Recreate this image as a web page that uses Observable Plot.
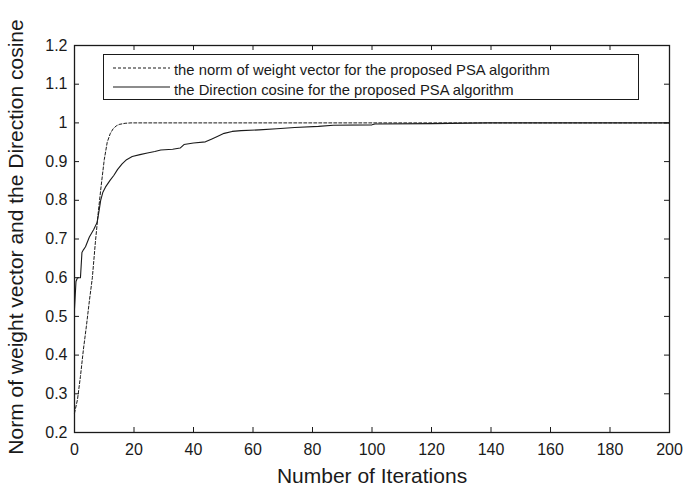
<!DOCTYPE html>
<html><head><meta charset="utf-8">
<script src="https://cdn.jsdelivr.net/npm/d3@7"></script>
<script src="https://cdn.jsdelivr.net/npm/@observablehq/plot@0.6"></script>
<style>
body{margin:0;background:#fff;}
#wrap{position:relative;width:685px;height:486px;font-family:"Liberation Sans",Arial,Helvetica,sans-serif;}
#legend{position:absolute;left:103px;top:54px;width:536px;height:46px;box-sizing:border-box;border:1.3px solid #1a1a1a;background:#fff;}
#legend svg{display:block;}
</style></head><body><div id="wrap"></div>
<script>
// ---- data ----
const xLabel = "Number of Iterations";
const yLabel = "Norm of weight vector and the Direction cosine";
const seriesNames = [
  "the norm of weight vector for the proposed PSA algorithm",
  "the Direction cosine for the proposed PSA algorithm"
];
const xTicks = [0, 20, 40, 60, 80, 100, 120, 140, 160, 180, 200];
const yTicks = [0.2, 0.3, 0.4, 0.5, 0.6, 0.7, 0.8, 0.9, 1, 1.1, 1.2];

// norm of weight vector (dashed)
const normIter  = [0, 1, 2, 3, 4, 5, 6, 7, 8, 9, 10, 11, 12, 13, 14, 15, 17, 19, 200];
const normValue = [0.25, 0.285, 0.345, 0.415, 0.475, 0.54, 0.60, 0.69, 0.77, 0.84, 0.905, 0.95, 0.972, 0.985, 0.992, 0.996, 0.999, 1.0, 1.0];

// direction cosine (solid)
const cosIter  = [0, 0.5, 1, 2, 2.5, 3, 3.7, 5, 6.5, 7.6, 8.2, 8.8, 9.5, 10.4, 12, 13.2, 14.5, 16, 17.5, 19.4, 22, 24.5, 27, 29, 33, 35.5, 36.8, 40, 44, 46, 48, 50.3, 53, 56, 62, 68, 74, 82, 87, 100, 101, 120, 139, 200];
const cosValue = [0.52, 0.59, 0.60, 0.60, 0.665, 0.672, 0.68, 0.705, 0.725, 0.743, 0.77, 0.80, 0.82, 0.834, 0.852, 0.864, 0.88, 0.894, 0.905, 0.913, 0.918, 0.922, 0.926, 0.930, 0.932, 0.935, 0.944, 0.948, 0.951, 0.958, 0.965, 0.973, 0.978, 0.980, 0.982, 0.985, 0.988, 0.991, 0.994, 0.995, 0.997, 0.998, 1.0, 1.0];

// ---- build ----
const normData = normIter.map((x, i) => ({iter: x, value: normValue[i]}));
const cosData = cosIter.map((x, i) => ({iter: x, value: cosValue[i]}));

const W = 685, H = 486, mL = 74, mR = 16, mT = 45, mB = 54;
const pw = W - mL - mR, ph = H - mT - mB, tk = 5;
const ink = "#1a1a1a";
const font = '"Liberation Sans",Arial,Helvetica,sans-serif';

const chart = Plot.plot({
  width: W, height: H,
  marginLeft: mL, marginRight: mR, marginTop: mT, marginBottom: mB,
  style: {fontFamily: font, fontSize: "16px", color: ink, background: "white", overflow: "visible"},
  x: {domain: [0, 200]},
  y: {domain: [0.2, 1.2]},
  marks: [
    Plot.axisX({ticks: xTicks, tickSize: 0, tickPadding: 11, label: null, fontSize: 16}),
    Plot.axisY({ticks: yTicks, tickSize: 0, tickPadding: 7, label: null, fontSize: 16, tickFormat: d => String(d)}),
    Plot.tickX(xTicks, {x: d => d, insetTop: ph - tk, stroke: ink}),
    Plot.tickX(xTicks, {x: d => d, insetBottom: ph - tk, stroke: ink}),
    Plot.tickY(yTicks, {y: d => d, insetRight: pw - tk, stroke: ink}),
    Plot.tickY(yTicks, {y: d => d, insetLeft: pw - tk, stroke: ink}),
    Plot.line(normData, {x: "iter", y: "value", stroke: ink, strokeWidth: 1, strokeDasharray: "3,2"}),
    Plot.line(cosData, {x: "iter", y: "value", stroke: ink, strokeWidth: 1.1}),
    Plot.frame({stroke: ink, strokeWidth: 1.3}),
    Plot.text([xLabel], {text: d => d, frameAnchor: "bottom", dy: 44, fontSize: 21, lineAnchor: "middle", textAnchor: "middle", fill: ink}),
    Plot.text([yLabel], {text: d => d, frameAnchor: "left", dx: -58, dy: -2, rotate: -90, fontSize: 21, lineAnchor: "middle", textAnchor: "middle", fill: ink})
  ]
});

const wrap = document.getElementById("wrap");
wrap.appendChild(chart);

// legend (inside the axes, MATLAB style)
const leg = document.createElement("div");
leg.id = "legend";
const ns = "http://www.w3.org/2000/svg";
const ls = document.createElementNS(ns, "svg");
ls.setAttribute("width", 534); ls.setAttribute("height", 44);
const dashes = ["3,2", null];
const rowY = [13, 32];
const baseY = [20, 40];
seriesNames.forEach((name, i) => {
  const ln = document.createElementNS(ns, "line");
  ln.setAttribute("x1", 9); ln.setAttribute("x2", 66);
  ln.setAttribute("y1", rowY[i]); ln.setAttribute("y2", rowY[i]);
  ln.setAttribute("stroke", ink); ln.setAttribute("stroke-width", 1.1);
  if (dashes[i]) ln.setAttribute("stroke-dasharray", dashes[i]);
  ls.appendChild(ln);
  const t = document.createElementNS(ns, "text");
  t.setAttribute("x", 70); t.setAttribute("y", baseY[i]);
  t.setAttribute("font-family", font); t.setAttribute("font-size", "14.8px");
  t.setAttribute("fill", ink);
  t.textContent = name;
  ls.appendChild(t);
});
leg.appendChild(ls);
wrap.appendChild(leg);
</script>
</body></html>
